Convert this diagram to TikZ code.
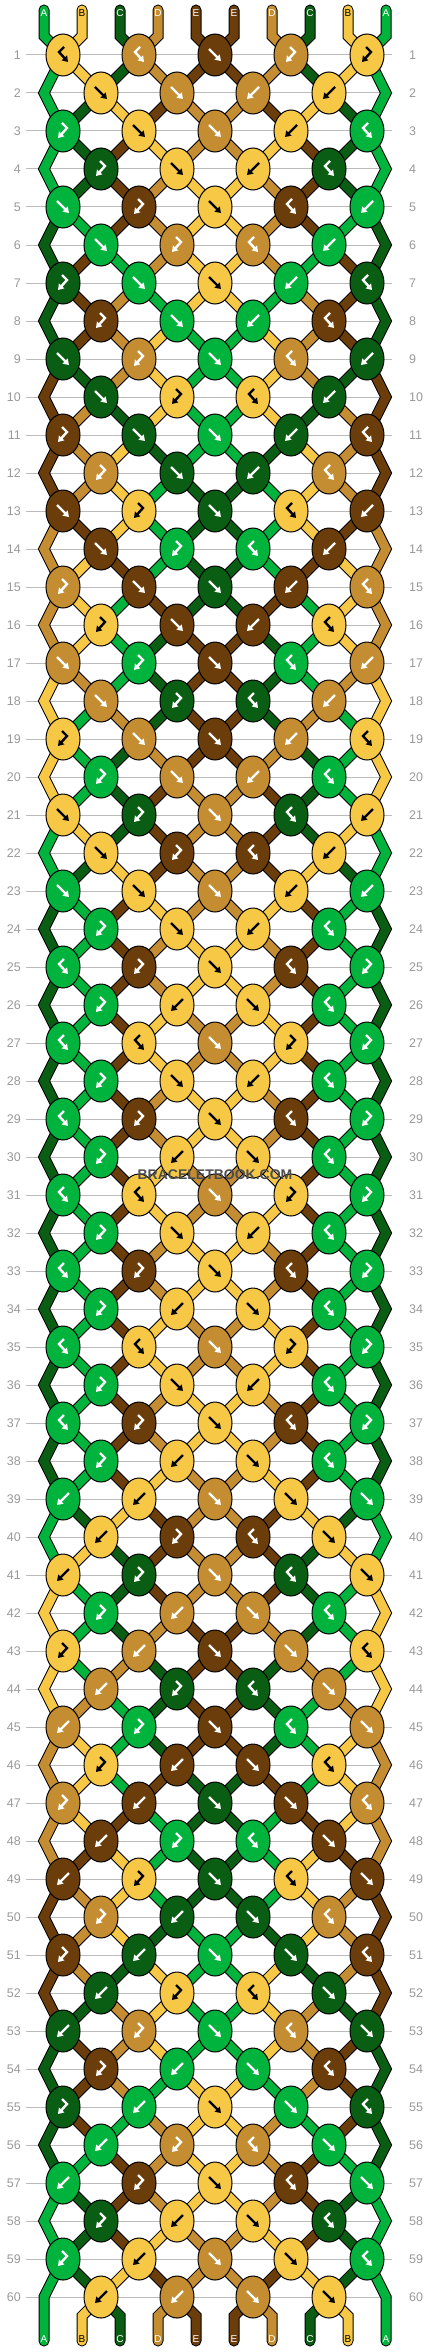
\documentclass[tikz,border=0pt]{standalone}
\usepackage{fontspec}
\setmainfont{Liberation Sans}
\usetikzlibrary{shapes.geometric,arrows.meta}
\pgfdeclarelayer{strands}
\pgfsetlayers{strands,main}
\definecolor{strA}{HTML}{00B33C}
\definecolor{strB}{HTML}{F7C845}
\definecolor{strC}{HTML}{0A5E14}
\definecolor{strD}{HTML}{C48D32}
\definecolor{strE}{HTML}{6B3D0B}
\definecolor{numgray}{HTML}{999999}
\definecolor{linegray}{HTML}{BBBBBB}
\definecolor{markgray}{HTML}{4D4D4D}
% knot types: f forward, b backward, F forward-backward, B backward-forward
\def\knotrows{{B,B,f,F,F},{f,f,b,b},{F,f,f,b,B},{F,f,b,B},{f,F,f,B,b},{f,F,B,b},{F,f,f,b,B},{F,f,b,B},{f,F,f,B,b},{f,F,B,b},
{F,f,f,b,B},{F,f,b,B},{f,F,f,B,b},{f,F,B,b},{F,f,f,b,B},{F,f,b,B},{f,F,f,B,b},{f,F,B,b},{F,f,f,b,B},{F,f,b,B},
{f,F,f,B,b},{f,F,B,b},{f,f,f,b,b},{F,f,b,B},{B,F,f,B,F},{F,b,f,B},{B,B,f,F,F},{F,f,b,B},{B,F,f,B,F},{F,b,f,B},
{B,B,f,F,F},{F,f,b,B},{B,F,f,B,F},{F,b,f,B},{B,B,f,F,F},{F,f,b,B},{B,F,f,B,F},{F,b,f,B},{b,b,f,f,f},{b,F,B,f},
{b,F,f,B,f},{F,b,f,B},{F,b,f,f,B},{b,F,B,f},{b,F,f,B,f},{F,b,f,B},{F,b,f,f,B},{b,F,B,f},{b,F,f,B,f},{F,b,f,B},
{F,b,f,f,B},{b,F,B,f},{b,F,f,B,f},{F,b,f,B},{F,b,f,f,B},{b,F,B,f},{b,F,f,B,f},{F,b,f,B},{F,b,f,f,B},{b,b,f,f}}
\begin{document}
\begin{tikzpicture}
[x=1pt,y=-1pt,
strand/.style={draw=black,line width=1pt,double=#1,double distance=9pt,line cap=round,line join=miter},
knot/.style={ellipse,draw=black,line width=1pt,minimum width=34pt,minimum height=42pt,inner sep=0pt},
glyph/.style={draw=#1,line width=2.4pt,-{Triangle[length=5.5pt,width=7pt]}},
rownum/.style={text=numgray,font=\fontsize{12.5}{12.5}\selectfont,inner sep=0pt},
strlabel/.style={text=#1,font=\fontsize{10}{10}\selectfont,inner sep=0pt},
rowline/.style={draw=linegray,line width=1pt}
]
\useasboundingbox (0,0) rectangle (430,2352);

% starting strings
\foreach \s [count=\i] in {A,B,C,D,E,E,D,C,B,A}{
  \expandafter\xdef\csname st\i\endcsname{\s}
}

% row lines and numbers
\begin{pgfonlayer}{strands}
\foreach \rw in {1,...,60}{
  \draw[rowline] (26,17+38*\rw) -- (392,17+38*\rw);
}
\end{pgfonlayer}
\foreach \rw in {1,...,60}{
  \node[rownum,anchor=east] (nl-\rw) at (21,17+38*\rw) {\rw};
  \node[rownum,anchor=west] (nr-\rw) at (409,17+38*\rw) {\rw};
}

% top labels
\foreach \s [count=\ps] in {A,B,C,D,E,E,D,C,B,A}{
  \ifnum\ps=2 \def\lc{black}\else\ifnum\ps=9 \def\lc{black}\else\def\lc{white}\fi\fi
  \node[strlabel=\lc] (top-\ps) at (44+38*\ps-38,13) {\s};
}

\foreach \row [count=\rw] in \knotrows {
  % where each string sits in this row
  \foreach \ps in {1,...,10}{
    \pgfmathsetmacro\xo{44+38*(\ps-1)+19*(1-2*mod(\ps+\rw,2))}
    \ifodd\rw\else
      \ifnum\ps=1 \def\xo{44}\fi
      \ifnum\ps=10 \def\xo{386}\fi
    \fi
    \coordinate (p-\rw-\ps) at (\xo,17+38*\rw);
  }
  % strands coming into this row
  \begin{pgfonlayer}{strands}
  \foreach \ps in {1,...,10}{
    \edef\sc{\csname st\ps\endcsname}
    \def\edge{0}
    \ifnum\ps=1 \def\edge{1}\fi
    \ifnum\ps=10 \def\edge{1}\fi
    \pgfmathtruncatemacro\rb{\rw-1}
    \pgfmathtruncatemacro\rbb{\rw-2}
    \ifnum\rw=1
      \draw[strand=str\sc] (44+38*\ps-38,10) -- (44+38*\ps-38,36) -- (p-1-\ps);
    \else
      \ifnum\edge=1
        \ifodd\rw
          \draw[strand=str\sc] (p-\rbb-\ps) -- (p-\rb-\ps) -- (p-\rw-\ps);
        \fi
      \else
        \draw[strand=str\sc] (p-\rb-\ps) -- (p-\rw-\ps);
      \fi
    \fi
  }
  \end{pgfonlayer}
  % knots
  \foreach \ty [count=\kn] in \row {
    \ifodd\rw \pgfmathtruncatemacro\lp{2*\kn-1}\else \pgfmathtruncatemacro\lp{2*\kn}\fi
    \pgfmathtruncatemacro\rp{\lp+1}
    \edef\cL{\csname st\lp\endcsname}
    \edef\cR{\csname st\rp\endcsname}
    \def\swap{0}
    \if\ty f \edef\kc{\cL}\def\swap{1}\fi
    \if\ty b \edef\kc{\cR}\def\swap{1}\fi
    \if\ty F \edef\kc{\cL}\fi
    \if\ty B \edef\kc{\cR}\fi
    \if\kc B \def\gc{black}\else \def\gc{white}\fi
    \node[knot,fill=str\kc] (k-\rw-\kn) at (p-\rw-\lp) {};
    \begin{scope}[shift={(k-\rw-\kn.center)}]
      \if\ty f \draw[glyph=\gc] (-6,-6) -- (6,6);\fi
      \if\ty b \draw[glyph=\gc] (6,-6) -- (-6,6);\fi
      \if\ty F \draw[glyph=\gc] (-1,-8) -- (4,-3) -- (-5,7);\fi
      \if\ty B \draw[glyph=\gc] (1,-8) -- (-4,-3) -- (5,7);\fi
    \end{scope}
    \ifnum\swap=1
      \expandafter\xdef\csname st\lp\endcsname{\cR}
      \expandafter\xdef\csname st\rp\endcsname{\cL}
    \fi
  }
}

% strands leaving the last row
\begin{pgfonlayer}{strands}
\foreach \ps in {1,...,10}{
  \edef\sc{\csname st\ps\endcsname}
  \pgfmathsetmacro\cx{44+38*(\ps-1)}
  \def\edge{0}
  \ifnum\ps=1 \def\edge{1}\fi
  \ifnum\ps=10 \def\edge{1}\fi
  \ifnum\edge=1
    \draw[strand=str\sc] (p-59-\ps) -- (p-60-\ps) -- (\cx,2341);
  \else
    \draw[strand=str\sc] (p-60-\ps) -- (\cx,2316) -- (\cx,2341);
  \fi
}
\end{pgfonlayer}

% bottom labels
\foreach \s [count=\ps] in {A,B,C,D,E,E,D,C,B,A}{
  \ifnum\ps=2 \def\lc{black}\else\ifnum\ps=9 \def\lc{black}\else\def\lc{white}\fi\fi
  \node[strlabel=\lc] (bot-\ps) at (44+38*\ps-38,2339) {\s};
}

\node[text=markgray,font=\bfseries\fontsize{14}{14}\selectfont] (mark) at (215,1175) {BRACELETBOOK.COM};
\end{tikzpicture}
\end{document}
